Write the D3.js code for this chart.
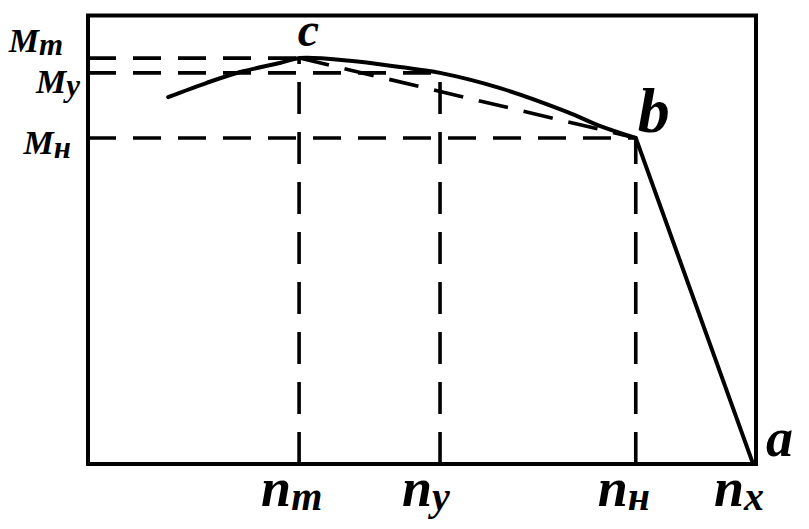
<!DOCTYPE html>
<html><head><meta charset="utf-8">
<script src="https://cdn.jsdelivr.net/npm/d3@7"></script>
<style>
html,body{margin:0;padding:0;background:#fff;}
svg{display:block;}
text{font-family:"Liberation Serif","DejaVu Serif",serif;font-style:italic;font-weight:bold;fill:#000;}
</style></head>
<body>
<svg id="chart" width="809" height="529"></svg>
<script>
// ---- data (relative speed n, relative torque M) ----
const speedLabels = ["n", "n", "n", "n"];
const speedSubs   = ["т", "у", "н", "х"];
const speedValues = [0.316, 0.527, 0.820, 0.994];

const torqueLabels = ["M", "M", "M"];
const torqueSubs   = ["т", "у", "н"];
const torqueValues = [0.905, 0.872, 0.727];

// free branch c..b (smooth) and governed branch b..a
const curveN = [0.120, 0.178, 0.228, 0.287, 0.317, 0.392, 0.467, 0.527, 0.617, 0.717, 0.766, 0.820];
const curveM = [0.818, 0.850, 0.874, 0.894, 0.905, 0.899, 0.885, 0.872, 0.838, 0.785, 0.754, 0.727];
const regN = [0.820, 0.994];
const regM = [0.727, 0.007];

const pointNames = ["с", "b", "a"];
const pointN = [0.317, 0.820, 0.994];
const pointM = [0.905, 0.727, 0.007];

// ---- drawing ----
const svg = d3.select("#chart");
const x = d3.scaleLinear().domain([0, 1]).range([88, 756]);
const y = d3.scaleLinear().domain([0, 1]).range([464, 15.5]);

const SW = 3.6;
const dash = "28,17";

// frame
svg.append("rect")
  .attr("x", x(0)).attr("y", y(1))
  .attr("width", x(1) - x(0)).attr("height", y(0) - y(1))
  .attr("fill", "none").attr("stroke", "#000").attr("stroke-width", 4);

// horizontal dashed guides
const tmIdx = [0, 1, 2];
svg.selectAll("line.h").data(tmIdx).enter().append("line")
  .attr("class", "h")
  .attr("x1", x(0)).attr("x2", i => x(speedValues[i]))
  .attr("y1", i => y(torqueValues[i])).attr("y2", i => y(torqueValues[i]))
  .attr("stroke", "#000").attr("stroke-width", SW).attr("stroke-dasharray", dash);

// vertical dashed guides
svg.selectAll("line.v").data(tmIdx).enter().append("line")
  .attr("class", "v")
  .attr("x1", i => x(speedValues[i])).attr("x2", i => x(speedValues[i]))
  .attr("y1", y(0)).attr("y2", i => y(torqueValues[i]))
  .attr("stroke", "#000").attr("stroke-width", SW).attr("stroke-dasharray", "32,18");

// secant c -> b dashed
svg.append("line")
  .attr("x1", x(pointN[0])).attr("y1", y(pointM[0]))
  .attr("x2", x(pointN[1])).attr("y2", y(pointM[1]))
  .attr("stroke", "#000").attr("stroke-width", SW).attr("stroke-dasharray", "30,16");

// main curve
const line = d3.line().x(d => x(d[0])).y(d => y(d[1]));
svg.append("path")
  .datum(curveN.map((n, i) => [n, curveM[i]]))
  .attr("d", line.curve(d3.curveCatmullRom.alpha(0.5)))
  .attr("fill", "none").attr("stroke", "#000").attr("stroke-width", 4).attr("stroke-linecap", "round");
svg.append("path")
  .datum(regN.map((n, i) => [n, regM[i]]))
  .attr("d", d3.line().x(d => x(d[0])).y(d => y(d[1])))
  .attr("fill", "none").attr("stroke", "#000").attr("stroke-width", 4).attr("stroke-linecap", "round");

// torque labels (left)
const tOff = [{dx: 63, dy: -6, sub: 3}, {dx: 80, dy: 20, sub: 3}, {dx: 71, dy: 16, sub: 4}];
tmIdx.forEach(i => {
  const t = svg.append("text")
    .attr("x", tOff[i].dx).attr("y", y(torqueValues[i]) + tOff[i].dy)
    .attr("text-anchor", "end");
  t.append("tspan").attr("font-size", 34).text(torqueLabels[i]);
  t.append("tspan").attr("font-size", 31).attr("dy", tOff[i].sub).text(torqueSubs[i]);
});

// speed labels (bottom)
speedValues.forEach((v, i) => {
  const t = svg.append("text")
    .attr("x", x(v) - 38).attr("y", 506);
  t.append("tspan").attr("font-size", 54).text(speedLabels[i]);
  t.append("tspan").attr("font-size", 40).attr("dy", 4).text(speedSubs[i]);
});

// point labels
const pOff = [{dx: -2, dy: -12, fs: 48}, {dx: 2, dy: -6, fs: 64}, {dx: 14, dy: -5, fs: 54}];
pointNames.forEach((p, i) => {
  svg.append("text")
    .attr("x", x(pointN[i]) + pOff[i].dx).attr("y", y(pointM[i]) + pOff[i].dy)
    .attr("font-size", pOff[i].fs).attr("font-weight", "normal").text(p);
});
</script>
</body></html>
